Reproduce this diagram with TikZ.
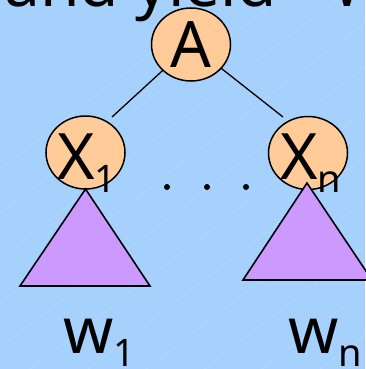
\documentclass[tikz,border=0pt]{standalone}
\usepackage{fontspec}
\setmainfont{Noto Sans}
\usetikzlibrary{shapes.geometric}
\definecolor{bgblue}{HTML}{A6D1FC}
\definecolor{stripe}{HTML}{B8DBFD}
\definecolor{nodeorange}{HTML}{FFCC99}
\definecolor{treepurple}{HTML}{CC99FF}
\tikzset{
  sym/.style={ellipse, draw=black, line width=1.5pt, fill=nodeorange,
              minimum width=79pt, minimum height=73pt, inner sep=0pt,
              font=\fontsize{64}{64}\selectfont},
  big/.style={inner sep=0pt, anchor=base west, font=\fontsize{64}{64}\selectfont},
  edge/.style={line width=1.3pt},
  subtree/.style={draw=black, line width=1.6pt, fill=treepurple, line join=miter},
  dot/.style={circle, fill=black, inner sep=0pt, minimum size=6pt},
}
\newcommand{\sub}[1]{\raisebox{-13pt}{\fontsize{38}{38}\selectfont #1}}
\begin{document}
\begin{tikzpicture}[x=1pt,y=-1pt]
  % backdrop with faint diagonal texture
  \fill[bgblue] (0,0) rectangle (365,369);
  \useasboundingbox (0,0) rectangle (365,369);
  \begin{scope}
    \clip (0,0) rectangle (365,369);
    \foreach \k in {0,...,16} {
      \draw[stripe, line width=0.5pt] (-300+\k*58,400) -- ++(520,-400);
    }
  \end{scope}

  % heading fragment along the top edge
  \node[inner sep=0pt, anchor=base east, font=\fontsize{64}{64}\selectfont]
    (head) at (277,7) {and yield};
  \node[big] (headw) at (331,7) {W};

  % root and children
  \node[sym] (A) at (191,44.5) {A};
  \node[sym] (X1) at (85.5,152.5) {};
  \node[sym] (Xn) at (308,153) {};

  \coordinate (e1) at (112,117);
  \coordinate (en) at (283,117);
  \draw[edge] (A) -- (e1);
  \draw[edge] (A) -- (en);

  % subtrees below the children
  \coordinate (t1top) at (85.5,189);
  \coordinate (t1l) at (20,286);
  \coordinate (t1r) at (150,286);
  \coordinate (tntop) at (307,183);
  \coordinate (tnl) at (243,280);
  \coordinate (tnr) at (372,280);
  \draw[subtree] (t1top) -- (t1l) -- (t1r) -- cycle;
  \draw[subtree] (tntop) -- (tnl) -- (tnr) -- cycle;

  % child labels
  \node[big] (X1lab) at (57,179) {X\sub{1}};
  \node[big] (Xnlab) at (280,179) {X\sub{n}};

  % ellipsis between the children
  \node[dot] (d1) at (167,187) {};
  \node[dot] (d2) at (207,187) {};
  \node[dot] (d3) at (246,187) {};

  % yields
  \node[big] (w1) at (63,353) {w\sub{1}};
  \node[big] (wn) at (288,353) {w\sub{n}};
\end{tikzpicture}
\end{document}
